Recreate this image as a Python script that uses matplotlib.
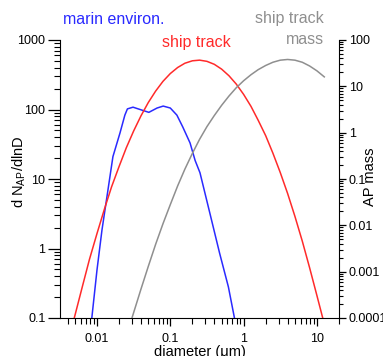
import matplotlib
matplotlib.use("Agg")
import matplotlib.pyplot as plt
from matplotlib.ticker import LogLocator, FixedLocator, FixedFormatter, NullFormatter

plt.rcParams['font.family'] = ['Liberation Sans', 'DejaVu Sans']

# marine environment number distribution (left axis)
blue_x = [0.0085, 0.0100, 0.0117, 0.0141, 0.0165, 0.0206, 0.024, 0.026, 0.031, 0.041,
          0.051, 0.066, 0.080, 0.100, 0.123, 0.148, 0.186, 0.218, 0.254, 0.347, 0.47, 0.62, 0.75]
blue_y = [0.1, 0.49, 1.85, 6.9, 21, 46, 83, 102, 108, 98,
          91, 105, 112, 105, 83, 56, 33, 18.5, 12.3, 3.2, 0.86, 0.28, 0.1]

# ship track number distribution (left axis)
red_x = [0.0049, 0.0063, 0.0079, 0.0100, 0.0126, 0.0158, 0.0200, 0.0251, 0.0316, 0.0398,
         0.0501, 0.0631, 0.0794, 0.100, 0.126, 0.158, 0.200, 0.251, 0.316, 0.398,
         0.501, 0.631, 0.794, 1.00, 1.26, 1.58, 2.00, 2.51, 3.16, 3.98,
         5.01, 6.31, 7.94, 10.0, 12.0]
red_y = [0.1, 0.28, 0.70, 1.64, 3.66, 7.7, 15.1, 28.1, 49, 81,
         126, 184, 254, 329, 402, 463, 502, 513, 493, 447,
         381, 306, 232, 165, 111, 70, 42, 23.5, 12.4, 6.2,
         2.9, 1.28, 0.53, 0.21, 0.1]

# ship track mass distribution (right axis)
grey_x = [0.030, 0.0398, 0.0501, 0.0631, 0.0794, 0.100, 0.126, 0.158, 0.200, 0.251,
          0.316, 0.398, 0.501, 0.631, 0.794, 1.00, 1.26, 1.58, 2.00, 2.51,
          3.16, 3.98, 5.01, 6.31, 7.94, 10.0, 12.6]
grey_y = [1e-4, 0.00042, 0.0013, 0.0039, 0.0108, 0.028, 0.071, 0.163, 0.357, 0.72,
          1.35, 2.34, 3.89, 6.17, 9.33, 13.2, 17.8, 22.9, 28.2, 33.1,
          36.7, 38.0, 36.7, 33.1, 27.5, 21.6, 16.0]

x_ticks = [0.01, 0.1, 1, 10]
x_labels = ["0.01", "0.1", "1", "10"]
yl_ticks = [0.1, 1, 10, 100, 1000]
yl_labels = ["0.1", "1", "10", "100", "1000"]
yr_ticks = [1e-4, 1e-3, 1e-2, 0.1, 1, 10, 100]
yr_labels = ["0.0001", "0.001", "0.01", "0.1", "1", "10", "100"]

fig = plt.figure(figsize=(3.83, 3.56), dpi=100)
ax = fig.add_axes([60/383, 38/356, 279/383, 278/356])
ax2 = ax.twinx()

ax.plot(blue_x, blue_y, color='#2a2aff', lw=1.1)
ax.plot(red_x, red_y, color='#ff2a2a', lw=1.1)
ax2.plot(grey_x, grey_y, color='#8f8f8f', lw=1.1)

ax.set_xscale('log')
ax.set_yscale('log')
ax2.set_yscale('log')
ax.set_xlim(0.00313, 20)
ax.set_ylim(0.1, 1000)
ax2.set_ylim(1e-4, 100)

for a in (ax, ax2):
    a.spines['top'].set_visible(False)
    a.patch.set_visible(False)
ax.spines['right'].set_visible(False)
ax2.spines['left'].set_visible(False)
ax2.spines['bottom'].set_visible(False)

ax.xaxis.set_major_locator(FixedLocator(x_ticks))
ax.xaxis.set_major_formatter(FixedFormatter(x_labels))
ax.xaxis.set_minor_locator(LogLocator(base=10, subs=range(2, 10), numticks=20))
ax.xaxis.set_minor_formatter(NullFormatter())

ax.yaxis.set_major_locator(FixedLocator(yl_ticks))
ax.yaxis.set_major_formatter(FixedFormatter(yl_labels))
ax.yaxis.set_minor_locator(LogLocator(base=10, subs=range(2, 10), numticks=20))
ax.yaxis.set_minor_formatter(NullFormatter())

ax2.yaxis.set_major_locator(FixedLocator(yr_ticks))
ax2.yaxis.set_major_formatter(FixedFormatter(yr_labels))
ax2.yaxis.set_minor_locator(LogLocator(base=10, subs=range(2, 10), numticks=20))
ax2.yaxis.set_minor_formatter(NullFormatter())

ax.tick_params(axis='y', which='major', direction='out', length=9, width=0.9, labelsize=9, pad=1.5)
ax.tick_params(axis='y', which='minor', direction='out', length=4.5, width=0.8)
ax.tick_params(axis='x', which='major', direction='out', length=6, width=0.9, labelsize=9, pad=5)
ax.tick_params(axis='x', which='minor', direction='out', length=4, width=0.8)
ax2.tick_params(axis='y', which='major', direction='out', length=5, width=0.9, labelsize=9, pad=2)
ax2.tick_params(axis='y', which='minor', direction='out', length=3, width=0.8)

ax.set_xlabel("diameter (\u03bcm)", fontsize=10.5, labelpad=0)
fig.text(19/383, 1 - 172/356, "d N$_{\\mathregular{AP}}$/dlnD", rotation=90, fontsize=10.5,
         ha='center', va='center')
fig.text(370/383, 1 - 177/356, "AP mass", rotation=90, fontsize=10.5, ha='center', va='center')

fig.text(114/383, 1 - 19/356, "marin environ.", color='#2a2aff', fontsize=11.5, ha='center', va='center')
fig.text(196/383, 1 - 42/356, "ship track", color='#ff2a2a', fontsize=11.5, ha='center', va='center')
fig.text(324/383, 1 - 19/356, "ship track", color='#8f8f8f', fontsize=11.5, ha='right', va='center')
fig.text(324/383, 1 - 39/356, "mass", color='#8f8f8f', fontsize=11.5, ha='right', va='center')

fig.savefig("out.png", dpi=100)
